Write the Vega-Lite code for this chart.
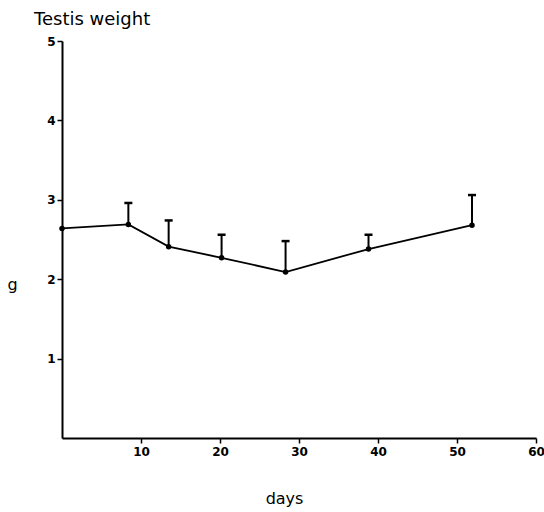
{
  "$schema": "https://vega.github.io/schema/vega-lite/v6.json",
  "width": 474,
  "height": 397,
  "autosize": "none",
  "padding": {"left": 62, "top": 41, "right": 8, "bottom": 74},
  "background": "white",
  "title": {
    "text": "Testis weight",
    "anchor": "start",
    "frame": "group",
    "dx": -28,
    "offset": 6,
    "font": "DejaVu Sans",
    "fontSize": 18,
    "fontWeight": "normal",
    "color": "black"
  },
  "data": {
    "values": [
      {"day": 0, "weight": 2.64, "upper": null},
      {"day": 8.4, "weight": 2.69, "upper": 2.96},
      {"day": 13.5, "weight": 2.41, "upper": 2.74},
      {"day": 20.2, "weight": 2.27, "upper": 2.56},
      {"day": 28.3, "weight": 2.09, "upper": 2.48},
      {"day": 38.8, "weight": 2.38, "upper": 2.56},
      {"day": 51.9, "weight": 2.68, "upper": 3.06}
    ]
  },
  "config": {
    "view": {"stroke": null},
    "axis": {
      "domainColor": "black",
      "domainWidth": 2,
      "tickColor": "black",
      "tickWidth": 1.5,
      "tickSize": 5,
      "grid": false,
      "labelFont": "DejaVu Sans",
      "labelFontSize": 12,
      "labelFontWeight": "bold",
      "labelColor": "black",
      "labelFlush": false,
      "labelOverlap": false,
      "titleFont": "DejaVu Sans",
      "titleFontSize": 16,
      "titleFontWeight": "normal",
      "titleColor": "black"
    }
  },
  "encoding": {
    "x": {
      "field": "day",
      "type": "quantitative",
      "scale": {"domain": [0, 60], "nice": false},
      "axis": {
        "title": "days",
        "titleAnchor": "start",
        "titleAlign": "center",
        "titleX": 222,
        "values": [10, 20, 30, 40, 50, 60],
        "labelPadding": 3,
        "titlePadding": 33
      }
    }
  },
  "layer": [
    {
      "mark": {"type": "rule", "color": "black", "strokeWidth": 2},
      "encoding": {
        "y": {
          "field": "weight",
          "type": "quantitative",
          "scale": {"domain": [0, 5], "nice": false},
          "axis": {
            "title": "g",
            "format": "d",
            "titleAngle": 0,
            "titleAlign": "left",
            "titleBaseline": "middle",
            "titleX": -55,
            "titleY": 243,
            "values": [1, 2, 3, 4, 5],
            "labelPadding": 2
          }
        },
        "y2": {"field": "upper"}
      }
    },
    {
      "mark": {"type": "tick", "color": "black", "opacity": 1, "thickness": 2.5, "size": 8, "orient": "horizontal"},
      "encoding": {
        "y": {"field": "upper", "type": "quantitative"}
      }
    },
    {
      "mark": {"type": "line", "color": "black", "strokeWidth": 1.8},
      "encoding": {
        "y": {"field": "weight", "type": "quantitative"}
      }
    },
    {
      "mark": {"type": "point", "filled": true, "color": "black", "opacity": 1, "size": 30},
      "encoding": {
        "y": {"field": "weight", "type": "quantitative"}
      }
    }
  ]
}
